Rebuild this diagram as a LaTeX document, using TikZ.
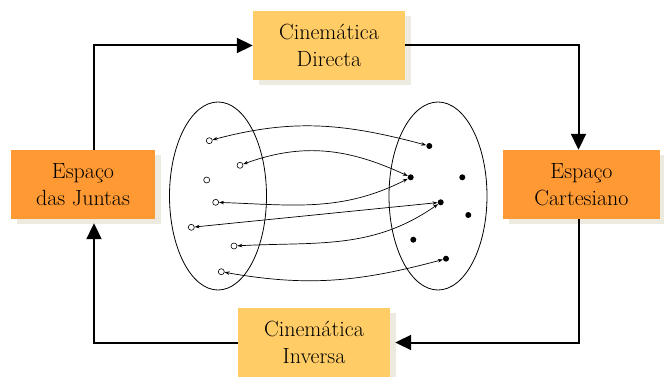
\documentclass[tikz,border=0pt]{standalone}
\usepackage{fontspec}
\usepackage{tikz}
\usetikzlibrary{arrows.meta,shadows}
\definecolor{lightor}{HTML}{FFCC66}
\definecolor{darkor}{HTML}{FF9933}
\definecolor{shade}{HTML}{EDEBE0}

\begin{document}
\begin{tikzpicture}[x=1pt,y=1pt,
  box/.style={inner sep=0pt,align=center,minimum height=69pt,
    font=\fontsize{22}{27}\selectfont,
    general shadow={shadow xshift=6pt,shadow yshift=-5pt,fill=shade}},
  flow/.style={line width=2pt,-{Triangle[length=16pt,width=15pt]}},
  open/.style={circle,draw,line width=0.6pt,fill=white,inner sep=0pt,minimum size=6pt},
  full/.style={circle,fill,inner sep=0pt,minimum size=6pt},
  map/.style={<->,>={Stealth[length=5pt,width=3.5pt]},line width=0.7pt}]
\useasboundingbox (0,0) rectangle (664,-377);

% the two spaces
\draw[line width=0.8pt] (218,-196) ellipse [x radius=48.5,y radius=94];
\draw[line width=0.8pt] (438,-196) ellipse [x radius=49,y radius=94];

% boxes
\node[box,fill=lightor,minimum width=152pt] (directa) at (329,-45.5) {Cinemática\\Directa};
\node[box,fill=darkor,minimum width=144pt] (juntas) at (83,-184.5) {Espaço\\das Juntas};
\node[box,fill=darkor,minimum width=157pt] (cartes) at (581.5,-184.5) {Espaço\\Cartesiano};
\node[box,fill=lightor,minimum width=152pt] (inversa) at (314,-342.5) {Cinemática\\Inversa};

% points of the joint space
\node[open] (l1) at (209.3,-140.7) {};
\node[open] (l2) at (240,-165.3) {};
\node[open] (l3) at (206.7,-180) {};
\node[open] (l4) at (215.7,-202.3) {};
\node[open] (l5) at (191.3,-227.3) {};
\node[open] (l6) at (234,-246) {};
\node[open] (l7) at (221.3,-271.7) {};
% points of the cartesian space
\node[full] (r1) at (429.3,-146) {};
\node[full] (r2) at (410.7,-177.3) {};
\node[full] (r3) at (462.3,-177.3) {};
\node[full] (r4) at (440.7,-202.3) {};
\node[full] (r5) at (468.3,-215) {};
\node[full] (r6) at (413.3,-239.7) {};
\node[full] (r7) at (446,-258.7) {};

\path[map]
(r1) edge[out=165,in=15] (l1)
(r2) edge[out=155,in=20] (l2)
(r2) edge[out=207,in=-2] (l4)
(r4) edge (l5)
(r4) edge[out=215,in=3] (l6)
(r7) edge[out=195,in=-10] (l7);

% loop between the boxes
\draw[flow] ([xshift=11pt]juntas.north) |- (directa.west);
\draw[flow] (directa.east) -| ([xshift=-3pt]cartes.north);
\draw[flow] ([xshift=-3pt]cartes.south) |- ([xshift=5pt]inversa.east);
\draw[flow] (inversa.west) -| ([xshift=11pt,yshift=-4pt]juntas.south);
\end{tikzpicture}
\end{document}
